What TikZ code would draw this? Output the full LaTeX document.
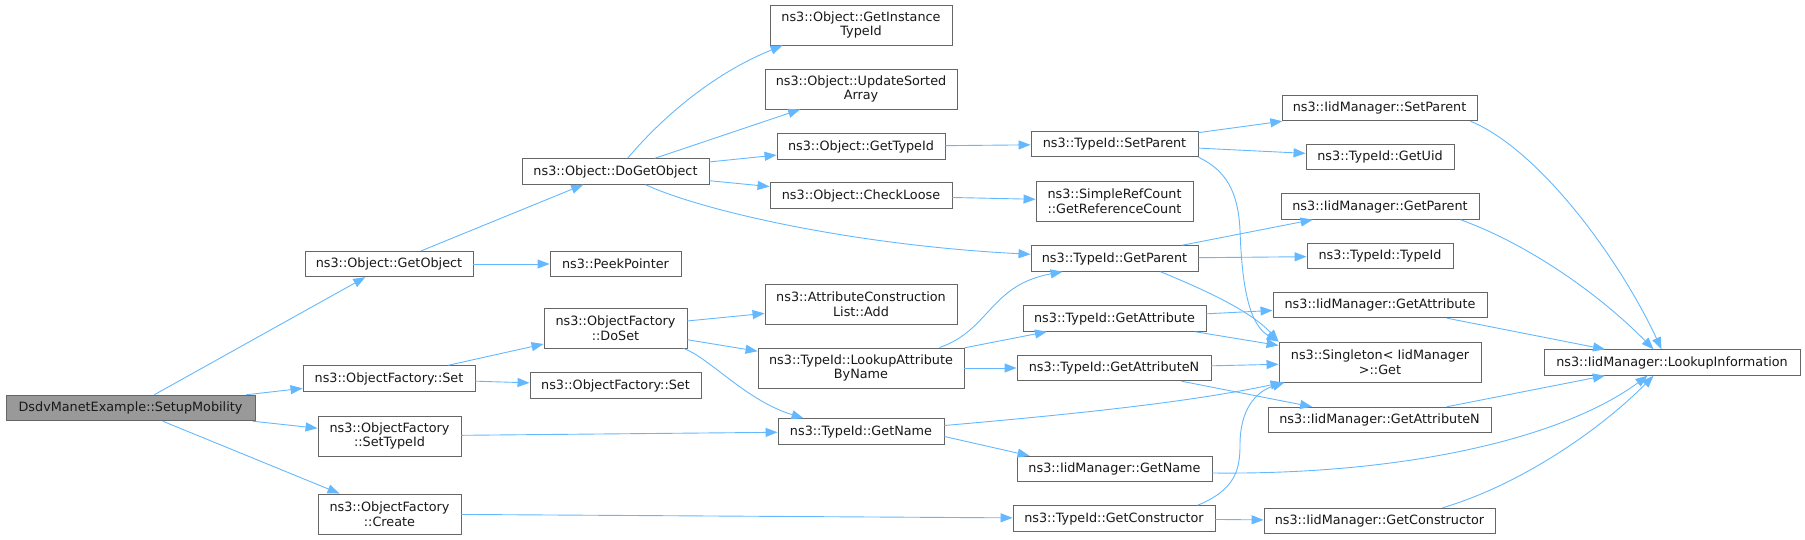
\documentclass[tikz,border=0pt]{standalone}
\usepackage{fontspec}
\setmainfont{DejaVu Sans}
\usetikzlibrary{arrows.meta}
\definecolor{edgeblue}{HTML}{63B8FF}
\definecolor{boxline}{HTML}{666666}
\definecolor{rootfill}{HTML}{999999}
\tikzset{
	func/.style={draw=boxline, line width=0.9pt, fill=white, text=black!90, inner sep=0pt,
		minimum height=25.5pt, minimum width=#1, align=center,
		font=\fontsize{12.8}{14.7}\selectfont},
	func2/.style={func=#1, minimum height=40pt},
	callarrow/.style={draw=edgeblue, line width=0.9pt, -{Triangle[length=12pt,width=9pt]}},
}
\begin{document}
\begin{tikzpicture}[x=1pt, y=-1pt]
	\useasboundingbox (0,0) rectangle (1805,540);
	\node [func=249pt, fill=rootfill] (root) at (130.5,408) {DsdvManetExample::SetupMobility};
	\node [func=168pt] (getobj) at (389,264) {ns3::Object::GetObject};
	\node [func=172pt] (ofset) at (389,378.5) {ns3::ObjectFactory::Set};
	\node [func2=143pt] (settypeid) at (389.5,436) {ns3::ObjectFactory\\::SetTypeId};
	\node [func2=143pt] (create) at (389.5,514) {ns3::ObjectFactory\\::Create};
	\node [func=187pt] (dogetobj) at (615.5,171.5) {ns3::Object::DoGetObject};
	\node [func=131pt] (peek) at (615.5,264) {ns3::PeekPointer};
	\node [func2=143pt] (doset) at (615.5,328) {ns3::ObjectFactory\\::DoSet};
	\node [func=171pt] (ofset2) at (615.5,385.5) {ns3::ObjectFactory::Set};
	\node [func2=182pt] (instid) at (861,25) {ns3::Object::GetInstance\\TypeId};
	\node [func2=192pt] (sorted) at (861,89) {ns3::Object::UpdateSorted\\Array};
	\node [func=168pt] (objtid) at (861,146.5) {ns3::Object::GetTypeId};
	\node [func=182pt] (loose) at (861,195.5) {ns3::Object::CheckLoose};
	\node [func2=192pt] (attradd) at (861,304) {ns3::AttributeConstruction\\List::Add};
	\node [func2=206pt] (lookup) at (861,368) {ns3::TypeId::LookupAttribute\\ByName};
	\node [func=166pt] (getname) at (861,431.5) {ns3::TypeId::GetName};
	\node [func=167pt] (setpar) at (1114.5,144) {ns3::TypeId::SetParent};
	\node [func2=157pt] (refcnt) at (1114.5,201) {ns3::SimpleRefCount\\::GetReferenceCount};
	\node [func=167pt] (getpar) at (1114.5,258.5) {ns3::TypeId::GetParent};
	\node [func=183pt] (getattr) at (1114.5,318.5) {ns3::TypeId::GetAttribute};
	\node [func=194pt] (getattrn) at (1114,368) {ns3::TypeId::GetAttributeN};
	\node [func=195pt] (iidname) at (1114.5,469) {ns3::IidManager::GetName};
	\node [func=202pt] (getctor) at (1114,518.5) {ns3::TypeId::GetConstructor};
	\node [func=195pt] (iidsetpar) at (1379.5,108) {ns3::IidManager::SetParent};
	\node [func=148pt] (getuid) at (1380,157) {ns3::TypeId::GetUid};
	\node [func=198pt] (iidgetpar) at (1380,206.5) {ns3::IidManager::GetParent};
	\node [func=146pt] (typeid) at (1380,256) {ns3::TypeId::TypeId};
	\node [func=214pt] (iidattr) at (1380,305) {ns3::IidManager::GetAttribute};
	\node [func2=202pt] (single) at (1380,362) {ns3::Singleton< IidManager\\>::Get};
	\node [func=223pt] (iidattrn) at (1379.5,420) {ns3::IidManager::GetAttributeN};
	\node [func=231pt] (iidctor) at (1379.5,521) {ns3::IidManager::GetConstructor};
	\node [func=256pt] (lookupinfo) at (1672,362.5) {ns3::IidManager::LookupInformation};
	\foreach \a/\b in {root/getobj, root/ofset, root/settypeid, root/create,
		getobj/dogetobj, getobj/peek, dogetobj/sorted, dogetobj/objtid, dogetobj/loose,
		objtid/setpar, loose/refcnt, ofset/doset, ofset/ofset2, doset/attradd, doset/lookup,
		settypeid/getname, create/getctor, lookup/getattr, lookup/getattrn,
		setpar/iidsetpar, setpar/getuid, getpar/iidgetpar, getpar/typeid,
		getattr/iidattr, getattr/single, getattrn/single, getattrn/iidattrn, getctor/iidctor,
		iidattr/lookupinfo, iidattrn/lookupinfo}{%
		\draw [callarrow] (\a) -- (\b);
		}
	\draw [callarrow] ([yshift=-5pt]getname.east) -- ([xshift=13pt]iidname.north west);
	\draw [callarrow] ([xshift=106pt]dogetobj.north west) .. controls (660,120) and (710,75) .. ([xshift=13pt]instid.south west);
	\draw [callarrow] ([xshift=124pt]dogetobj.south west) .. controls (700,210) and (850,245) .. ([yshift=-9pt]getpar.north west);
	\draw [callarrow] ([xshift=-4pt]doset.south east) .. controls (710,358) and (745,400) .. ([xshift=26pt]getname.north west);
	\draw [callarrow] ([xshift=182pt]lookup.north west) .. controls (990,330) and (990,285) .. ([xshift=32pt]getpar.south west);
	\draw [callarrow] ([yshift=6pt]getname.east) .. controls (1100,412) and (1200,400) .. ([xshift=4pt]single.south west);
	\draw [callarrow] (setpar.south east) .. controls (1225,170) and (1238,190) .. (1240,230) .. controls (1242,290) and (1250,325) .. (single.north west);
	\draw [callarrow] ([xshift=-38pt]getpar.south east) .. controls (1200,288) and (1250,310) .. (single.north west);
	\draw [callarrow] ([xshift=-18pt]getctor.north east) .. controls (1235,490) and (1240,470) .. (1240,445) .. controls (1240,410) and (1255,392) .. ([xshift=6pt]single.south west);
	\draw [callarrow] ([xshift=-7pt]iidsetpar.south east) .. controls (1540,150) and (1620,260) .. ([xshift=118pt]lookupinfo.north west);
	\draw [callarrow] ([xshift=-19pt]iidgetpar.south east) .. controls (1530,245) and (1600,295) .. ([xshift=110pt]lookupinfo.north west);
	\draw [callarrow] ([yshift=-4pt]iidname.east) .. controls (1400,475) and (1560,440) .. ([xshift=104pt]lookupinfo.south west);
	\draw [callarrow] ([xshift=-53pt]iidctor.north east) .. controls (1520,485) and (1600,430) .. ([xshift=110pt]lookupinfo.south west);
\end{tikzpicture}
\end{document}
